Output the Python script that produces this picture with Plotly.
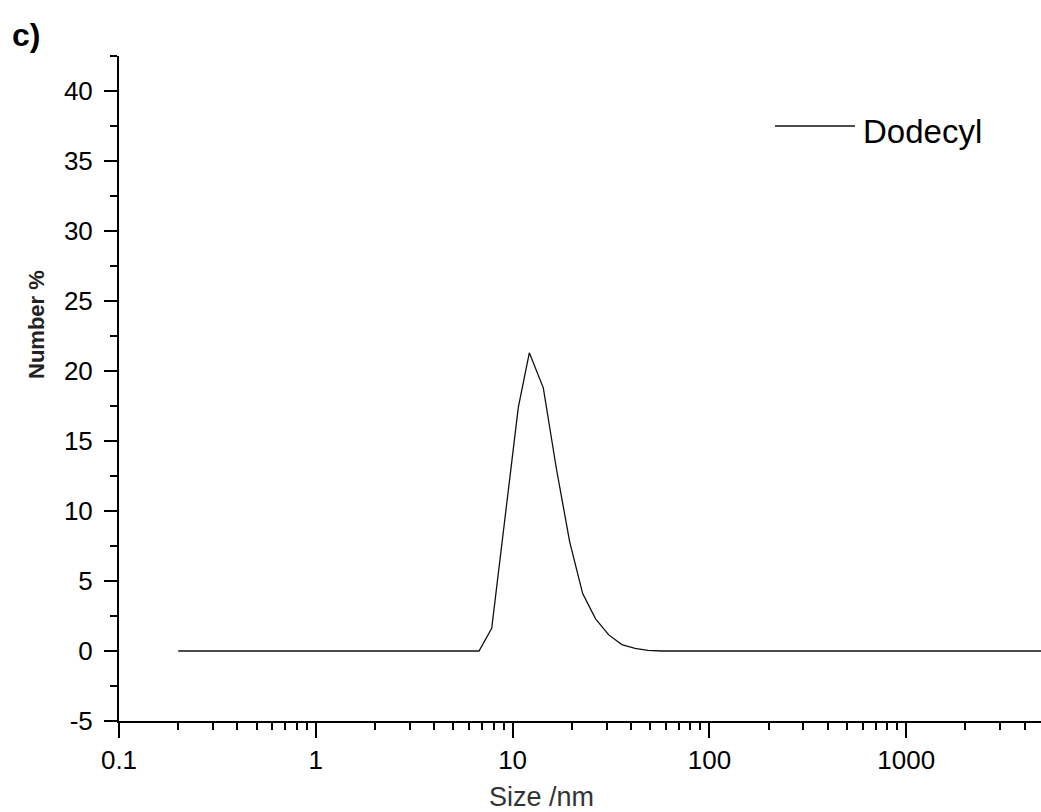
import numpy as np
import plotly.graph_objects as go

# Number-weighted size distribution (DLS) for the dodecyl sample
size_nm = [0.2, 6.75, 7.83, 9.15, 10.69, 12.16, 14.32, 16.7, 19.5, 22.7,
           26.4, 30.8, 35.9, 41.9, 48.7, 56.8, 5000]
number_pct = [0, 0, 1.62, 9.5, 17.4, 21.3, 18.8, 13.0, 7.8, 4.1,
              2.3, 1.15, 0.46, 0.18, 0.04, 0, 0]

series_name = "Dodecyl"
x_tick_vals = [0.1, 1, 10, 100, 1000]
x_tick_text = ["0.1", "1", "10", "100", "1000"]
y_tick_vals = [-5, 0, 5, 10, 15, 20, 25, 30, 35, 40]
y_tick_text = ["-5", "0", "5", "10", "15", "20", "25", "30", "35", "40"]

# minor ticks at 2..9 within each decade
x_minor = [m * 10.0 ** e for e in range(-1, 4) for m in range(2, 10)]

W, H = 1041, 812
L, R, T, B = 119, 0, 56, 91
pw, ph = W - L - R, H - T - B


def px_x(p):
    return (p - L) / pw


def px_y(p):
    return (H - B - p) / ph


fig = go.Figure()
fig.add_trace(go.Scatter(
    x=size_nm, y=number_pct, mode="lines", name=series_name,
    line=dict(color="#111111", width=1.3), showlegend=False,
))

tick_font = dict(family="Liberation Sans, Arial, sans-serif", size=26, color="#000")

fig.update_layout(
    width=W, height=H,
    margin=dict(l=L, r=R, t=T, b=B),
    paper_bgcolor="white", plot_bgcolor="white",
    xaxis=dict(
        type="log", range=[-1, np.log10(4840)],
        tickmode="array", tickvals=x_tick_vals, ticktext=x_tick_text,
        ticks="outside", ticklen=15, tickwidth=2, tickcolor="#000",
        showline=True, linecolor="#000", linewidth=2,
        showgrid=False, zeroline=False, tickfont=tick_font,
        minor=dict(tickmode="array", tickvals=x_minor, ticks="outside",
                   ticklen=7, tickwidth=2, tickcolor="#000", showgrid=False),
    ),
    yaxis=dict(
        range=[-5, 42.5], tickmode="array", tickvals=y_tick_vals, ticktext=y_tick_text,
        ticks="outside", ticklen=13, tickwidth=2, tickcolor="#000",
        ticklabelstandoff=6,
        showline=True, linecolor="#000", linewidth=2,
        showgrid=False, zeroline=False, tickfont=tick_font,
        minor=dict(tickmode="linear", tick0=0, dtick=2.5, ticks="outside", ticklen=7,
                   tickwidth=2, tickcolor="#000", showgrid=False),
    ),
    font=dict(family="Liberation Sans, Arial, sans-serif", color="#000"),
)

# legend sample line and label
fig.add_shape(type="line", xref="paper", yref="paper",
              x0=px_x(775), x1=px_x(855), y0=px_y(126), y1=px_y(126),
              line=dict(color="#111111", width=1.5))
fig.add_annotation(text=series_name, xref="paper", yref="paper",
                   x=px_x(861), y=px_y(131), xanchor="left", yanchor="middle",
                   showarrow=False,
                   font=dict(family="Liberation Sans, Arial, sans-serif", size=33, color="#000"))

# axis titles and panel label
fig.add_annotation(text="<b>Number %</b>", xref="paper", yref="paper",
                   x=px_x(36), y=px_y(325), textangle=-90,
                   xanchor="center", yanchor="middle", showarrow=False,
                   font=dict(family="Liberation Sans, Arial, sans-serif", size=22, color="#222"))
fig.add_annotation(text="Size /nm", xref="paper", yref="paper",
                   x=px_x(541), y=px_y(797), xanchor="center", yanchor="middle",
                   showarrow=False,
                   font=dict(family="Liberation Sans, Arial, sans-serif", size=27, color="#333"))
fig.add_annotation(text="<b>c)</b>", xref="paper", yref="paper",
                   x=px_x(26), y=px_y(35), xanchor="center", yanchor="middle",
                   showarrow=False,
                   font=dict(family="Liberation Sans, Arial, sans-serif", size=32, color="#000"))

fig.write_html("out.html")
